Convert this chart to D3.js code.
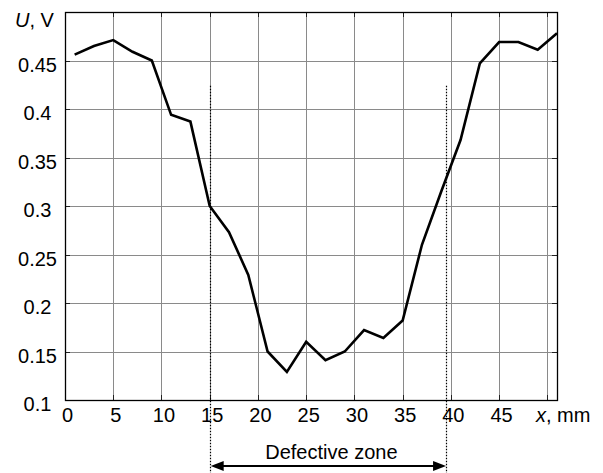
<!DOCTYPE html>
<html>
<head>
<meta charset="utf-8">
<script src="https://cdn.jsdelivr.net/npm/d3@7"></script>
<style>
  html, body { margin: 0; padding: 0; background: #fff; }
  svg { display: block; font-family: "Liberation Sans", Arial, sans-serif; }
</style>
</head>
<body>
<svg id="chart" width="603" height="473"></svg>
<script>
// Voltage U along the scan coordinate x
const positions = [1, 3, 5, 7, 9, 11, 13, 15, 17, 19, 21, 23, 25, 27, 29, 31, 33, 35, 37, 39, 41, 43, 45, 47, 49, 51];
const voltages  = [0.456, 0.465, 0.471, 0.459, 0.450, 0.394, 0.387, 0.300, 0.273, 0.229, 0.150, 0.129, 0.160,
                   0.141, 0.150, 0.172, 0.164, 0.182, 0.260, 0.315, 0.368, 0.447, 0.469, 0.469, 0.461, 0.478];
const xTicks = [0, 5, 10, 15, 20, 25, 30, 35, 40, 45];
const xGrid  = [5, 10, 15, 20, 25, 30, 35, 40, 45, 50];
const yTicks = [0.1, 0.15, 0.2, 0.25, 0.3, 0.35, 0.4, 0.45];
const zone = [15, 39.5];          // defective zone limits, mm
const zoneLabel = "Defective zone";

const svg = d3.select("#chart");
const plotL = 65, plotR = 557, plotT = 12, plotB = 400;
const x = d3.scaleLinear().domain([0, 51]).range([plotL, plotR]);
const y = d3.scaleLinear().domain([0.1, 0.5]).range([plotB, plotT]);

const FS = 20;
function label(g, tx, ty, anchor) {
  return g.append("text")
    .attr("x", tx).attr("y", ty)
    .attr("text-anchor", anchor)
    .attr("font-size", FS)
    .attr("fill", "#000");
}

// grid
const grid = svg.append("g").attr("stroke", "#8a8a8a").attr("stroke-width", 1);
grid.selectAll("line.v").data(xGrid).join("line")
  .attr("x1", d => Math.round(x(d)) + 0.5).attr("x2", d => Math.round(x(d)) + 0.5)
  .attr("y1", plotT).attr("y2", plotB);
grid.selectAll("line.h").data(yTicks.slice(1)).join("line")
  .attr("y1", d => Math.round(y(d)) + 0.5).attr("y2", d => Math.round(y(d)) + 0.5)
  .attr("x1", plotL).attr("x2", plotR);

// inward ticks
const tk = svg.append("g").attr("stroke", "#222").attr("stroke-width", 1);
xGrid.forEach(d => {
  const px = Math.round(x(d)) + 0.5;
  tk.append("line").attr("x1", px).attr("x2", px).attr("y1", plotB).attr("y2", plotB - 5);
  tk.append("line").attr("x1", px).attr("x2", px).attr("y1", plotT).attr("y2", plotT + 5);
});
yTicks.slice(1).forEach(d => {
  const py = Math.round(y(d)) + 0.5;
  tk.append("line").attr("y1", py).attr("y2", py).attr("x1", plotL).attr("x2", plotL + 5);
  tk.append("line").attr("y1", py).attr("y2", py).attr("x1", plotR).attr("x2", plotR - 5);
});

// frame
svg.append("rect").attr("x", plotL + 0.5).attr("y", plotT + 0.5)
  .attr("width", plotR - plotL).attr("height", plotB - plotT)
  .attr("fill", "none").attr("stroke", "#000").attr("stroke-width", 1.3);

// tick labels
const labels = svg.append("g");
yTicks.forEach(d => label(labels, 37.5, y(d) + 11, "middle").text(String(d)));
xTicks.forEach(d => label(labels, x(d) + 2.5, 422, "middle").text(String(d)));

// axis titles
const ut = label(svg, 15, 27, "start");
ut.append("tspan").attr("font-style", "italic").text("U");
ut.append("tspan").text(", V");
const xt = label(svg, 536, 422, "start");
xt.append("tspan").attr("font-style", "italic").text("x");
xt.append("tspan").text(", mm");

// data curve
const line = d3.line().x((d, i) => x(positions[i])).y(d => y(d));
svg.append("path").datum(voltages)
  .attr("d", line)
  .attr("fill", "none").attr("stroke", "#000").attr("stroke-width", 2.6)
  .attr("stroke-linejoin", "miter");

// defective zone markers
const zoneTop = y(0.424);
svg.selectAll("line.zone").data(zone).join("line")
  .attr("x1", d => Math.round(x(d)) + 0.5).attr("x2", d => Math.round(x(d)) + 0.5)
  .attr("y1", zoneTop).attr("y2", 473)
  .attr("stroke", "#000").attr("stroke-width", 1.2)
  .attr("stroke-dasharray", "1.5,1.5");

const ay = 466;
const x0 = x(zone[0]) + 1, x1 = x(zone[1]);
svg.append("line").attr("x1", x0 + 8).attr("x2", x1 - 8).attr("y1", ay).attr("y2", ay)
  .attr("stroke", "#000").attr("stroke-width", 2.2);
svg.append("path").attr("d", `M${x0},${ay} L${x0 + 13},${ay - 5} L${x0 + 13},${ay + 5} Z`).attr("fill", "#000");
svg.append("path").attr("d", `M${x1},${ay} L${x1 - 13},${ay - 5} L${x1 - 13},${ay + 5} Z`).attr("fill", "#000");
label(svg, (x0 + x1) / 2 + 3, 459, "middle").text(zoneLabel);
</script>
</body>
</html>
